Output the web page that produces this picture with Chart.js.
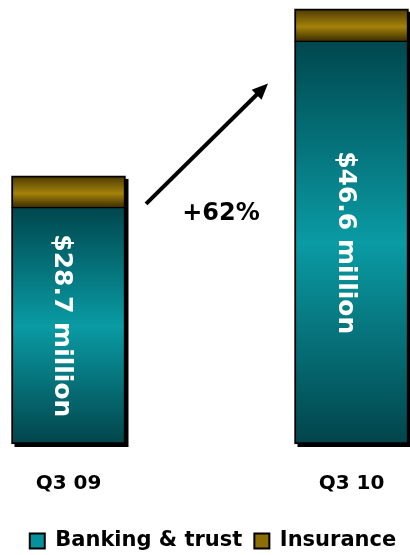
<!DOCTYPE html>
<html>
<head>
<meta charset="utf-8">
<title>Revenue Q3</title>
<script src="https://cdn.jsdelivr.net/npm/chart.js@4.4.1/dist/chart.umd.min.js"></script>
<style>
    html, body { margin: 0; padding: 0; background: #fff; }
    canvas { display: block; }
</style>
</head>
<body>
<canvas id="revenue" width="410" height="555"></canvas>
<script>
// Revenue by quarter, $ million
const categories = ['Q3 09', 'Q3 10'];
const seriesNames = ['Banking & trust', 'Insurance'];
const banking = [25.3, 43.1];
const insurance = [3.4, 3.5];

const FONT = 'DejaVu Sans';

// growth arrow between the two bars, in data units
const arrow = { from: { x: 0.274, y: 25.7 }, to: { x: 0.705, y: 38.6 } };
const growthAt = { x: 0.539, y: 24.7 };

const tealStops = [[0, '#00474e'], [0.5, '#0a9ba4'], [1, '#02444b']];
const goldStops = [[0, '#4a3900'], [0.55, '#a5820b'], [1, '#3a2c00']];

/**
 * Vertical gradient spanning one stacked segment
 */
function segmentFill(stops) {
    return (context) => {
        const chart = context.chart;
        if (!chart.chartArea || context.type !== 'data') {
            return stops[1][1];
        }
        const y = chart.scales.y;
        const i = context.dataIndex;
        const base = context.datasetIndex === 0 ? 0 : banking[i];
        const top = context.datasetIndex === 0 ? banking[i] : banking[i] + insurance[i];
        const g = chart.ctx.createLinearGradient(0, y.getPixelForValue(top), 0, y.getPixelForValue(base));
        stops.forEach(([offset, color]) => g.addColorStop(offset, color));
        return g;
    };
}

// hard black drop shadow behind each whole stack
const stackShadow = {
    id: 'stackShadow',
    beforeDatasetsDraw(chart) {
        const ctx = chart.ctx;
        const bottom = chart.getDatasetMeta(0).data;
        const top = chart.getDatasetMeta(1).data;
        ctx.save();
        ctx.fillStyle = '#000';
        top.forEach((bar, i) => {
            const w = bar.width;
            ctx.fillRect(bar.x - w / 2 + 3, bar.y + 3, w, bottom[i].base - bar.y);
        });
        ctx.restore();
    },
};

// rotated totals inside the bars, the arrow and the growth figure
const annotations = {
    id: 'annotations',
    afterDatasetsDraw(chart) {
        const { ctx, scales: { x, y } } = chart;
        ctx.save();

        ctx.fillStyle = '#fff';
        ctx.font = `bold 25px ${FONT}`;
        ctx.textAlign = 'center';
        ctx.textBaseline = 'alphabetic';
        banking.forEach((v, i) => {
            const total = v + insurance[i];
            const cx = x.getPixelForValue(i);
            const cy = (y.getPixelForValue(0) + y.getPixelForValue(v)) / 2;
            ctx.save();
            ctx.translate(cx - 13, cy);
            ctx.rotate(Math.PI / 2);
            ctx.fillText(`$${total.toFixed(1)} million`, 0, 0);
            ctx.restore();
        });

        const x0 = x.getPixelForValue(arrow.from.x);
        const y0 = y.getPixelForValue(arrow.from.y);
        const x1 = x.getPixelForValue(arrow.to.x);
        const y1 = y.getPixelForValue(arrow.to.y);
        const angle = Math.atan2(y1 - y0, x1 - x0);
        const head = 16;
        ctx.strokeStyle = '#000';
        ctx.fillStyle = '#000';
        ctx.lineWidth = 4;
        ctx.beginPath();
        ctx.moveTo(x0, y0);
        ctx.lineTo(x1 - Math.cos(angle) * head * 0.8, y1 - Math.sin(angle) * head * 0.8);
        ctx.stroke();
        ctx.beginPath();
        ctx.moveTo(x1, y1);
        ctx.lineTo(x1 - head * Math.cos(angle) + 7 * Math.sin(angle), y1 - head * Math.sin(angle) - 7 * Math.cos(angle));
        ctx.lineTo(x1 - head * Math.cos(angle) - 7 * Math.sin(angle), y1 - head * Math.sin(angle) + 7 * Math.cos(angle));
        ctx.closePath();
        ctx.fill();

        const first = banking[0] + insurance[0];
        const last = banking[1] + insurance[1];
        const growth = Math.round((last / first - 1) * 100);
        ctx.font = `bold 24px ${FONT}`;
        ctx.textBaseline = 'middle';
        ctx.fillText(`+${growth}%`, x.getPixelForValue(growthAt.x), y.getPixelForValue(growthAt.y));

        ctx.restore();
    },
};

const legendColors = ['#07929b', '#8c6d06'];

new Chart(document.getElementById('revenue'), {
    type: 'bar',
    data: {
        datasets: [
            {
                label: seriesNames[0],
                data: banking.map((v, i) => ({ x: i, y: v })),
                backgroundColor: segmentFill(tealStops),
                borderColor: '#000',
                borderWidth: { left: 2, right: 2, bottom: 2, top: 1 },
                borderSkipped: false,
            },
            {
                label: seriesNames[1],
                data: insurance.map((v, i) => ({ x: i, y: v })),
                backgroundColor: segmentFill(goldStops),
                borderColor: '#000',
                borderWidth: { left: 2, right: 2, bottom: 1, top: 2 },
                borderSkipped: false,
            },
        ],
    },
    options: {
        responsive: false,
        animation: false,
        barThickness: 114,
        clip: false,
        layout: {
            // legend sits a little right of centre and runs close to the bottom edge
            padding: { top: 5, left: 16, right: 0, bottom: -6.5 },
        },
        scales: {
            x: {
                type: 'linear',
                stacked: true,
                offset: false,
                min: -0.1855,
                max: 1.2067,
                grid: { display: false, offset: false },
                border: { display: false },
                afterBuildTicks: (scale) => {
                    scale.ticks = categories.map((c, i) => ({ value: i }));
                },
                afterFit: (scale) => {
                    scale.height = 74.5;
                },
                ticks: {
                    padding: 20,
                    autoSkip: false,
                    maxRotation: 0,
                    color: '#000',
                    font: { family: FONT, size: 20, weight: 'bold' },
                    callback: (value) => categories[value] ?? '',
                },
            },
            y: {
                display: false,
                stacked: true,
                min: 0,
                max: 47,
            },
        },
        plugins: {
            tooltip: { enabled: false },
            legend: {
                position: 'bottom',
                labels: {
                    boxWidth: 15,
                    boxHeight: 15,
                    padding: 12,
                    color: '#000',
                    font: { family: FONT, size: 21, weight: 'bold' },
                    generateLabels: () => seriesNames.map((name, i) => ({
                        text: name,
                        fillStyle: legendColors[i],
                        strokeStyle: '#000',
                        lineWidth: 2,
                        fontColor: '#000',
                        datasetIndex: i,
                    })),
                },
            },
        },
    },
    plugins: [stackShadow, annotations],
});
</script>
</body>
</html>
